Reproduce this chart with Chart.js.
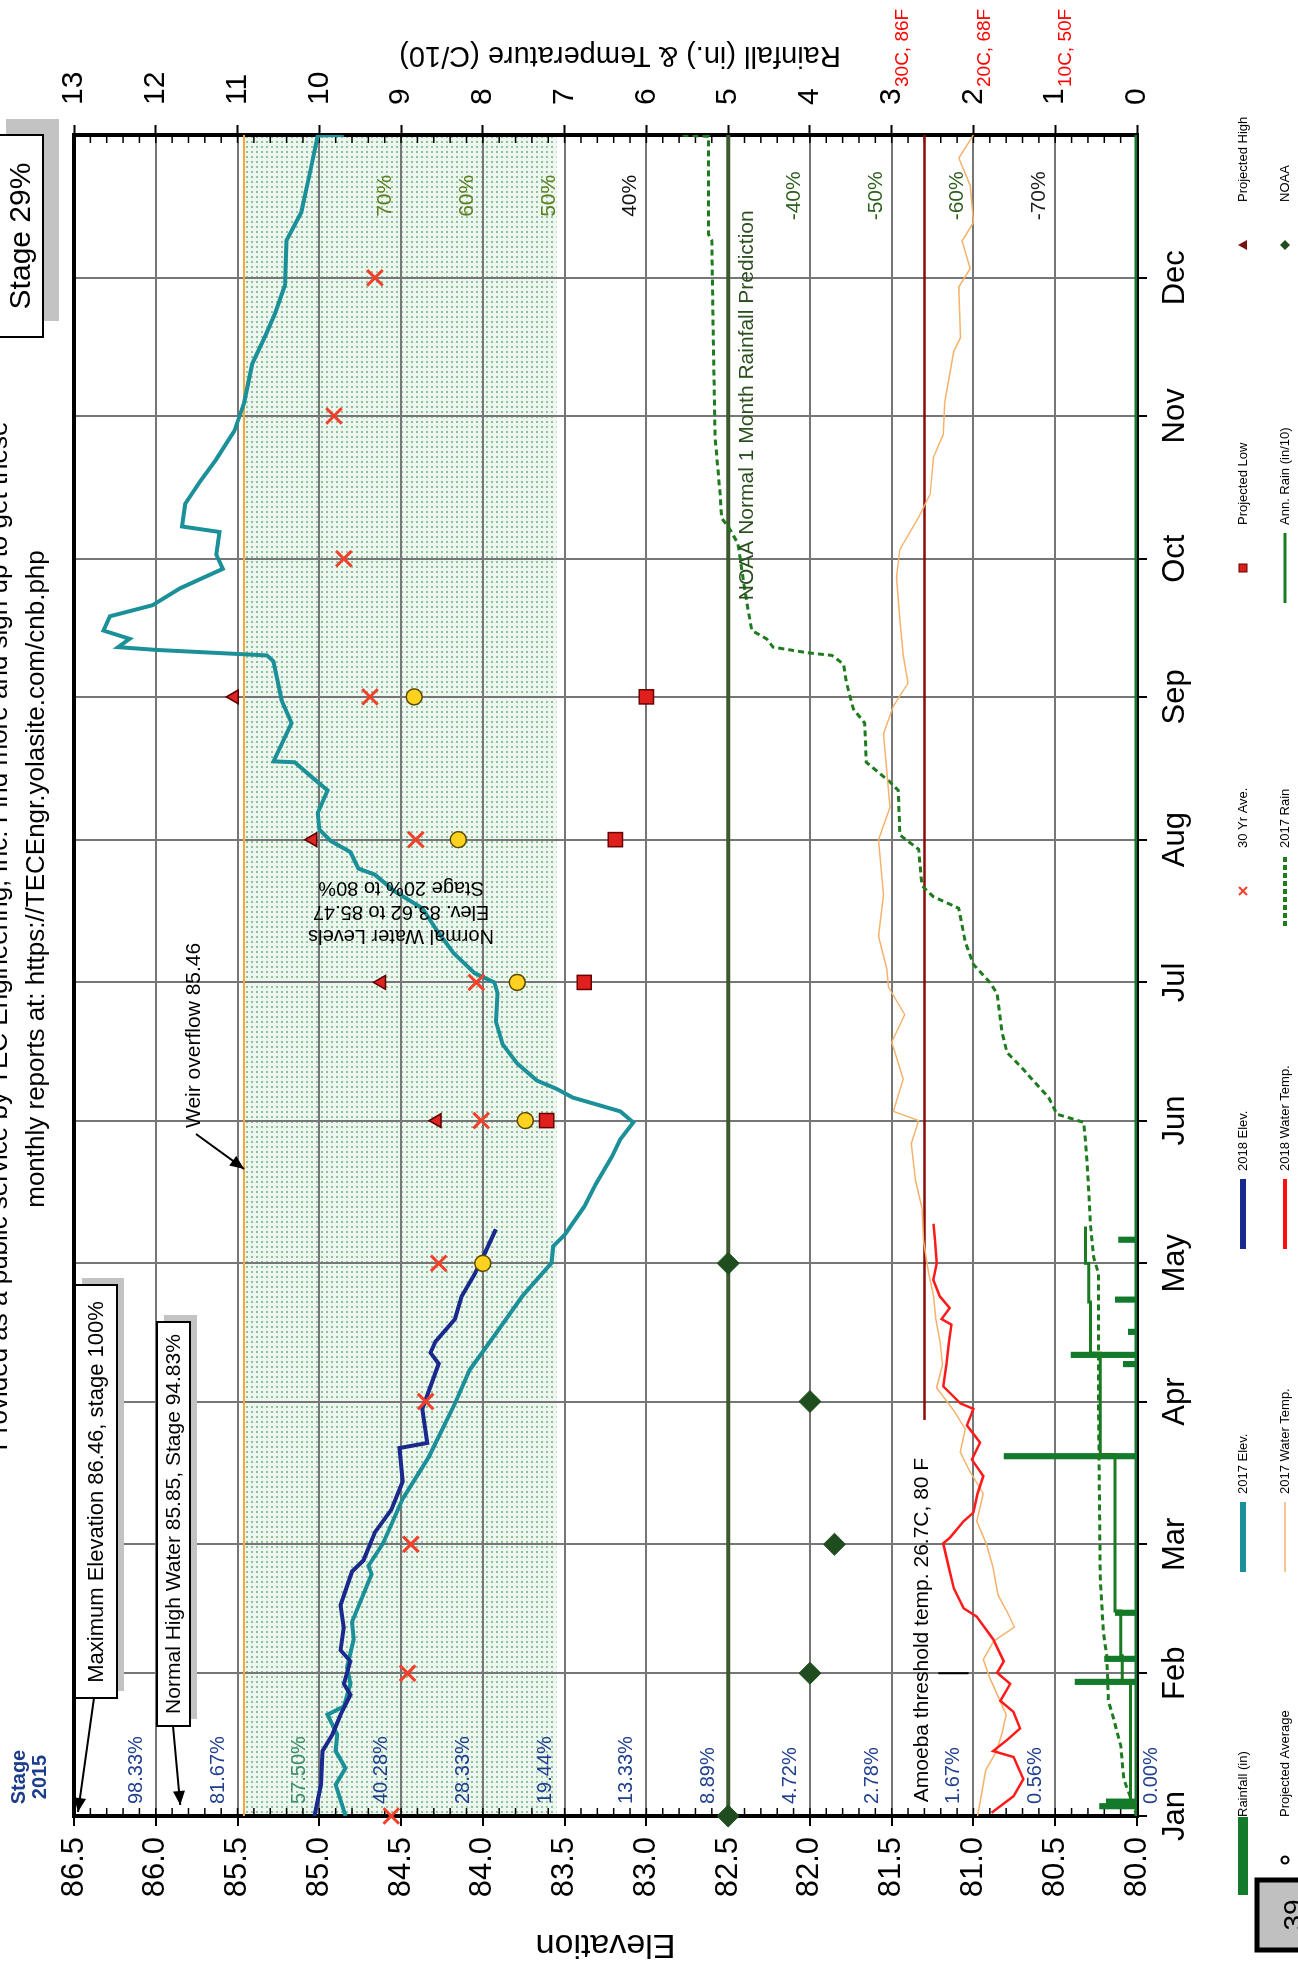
<!DOCTYPE html>
<html><head><meta charset="utf-8">
<script src="https://cdn.jsdelivr.net/npm/chart.js@4.4.0/dist/chart.umd.min.js"></script>
<style>
html,body{margin:0;padding:0;background:#fff;overflow:hidden;width:1298px;height:1969px;}
#wrap{position:absolute;left:0;top:0;width:1969px;height:1298px;transform-origin:0 0;transform:translate(0px,1969px) rotate(-90deg);background:#fff;}
canvas{display:block;}
</style></head><body>
<div id="wrap"><canvas id="c" width="1969" height="1298"></canvas></div>
<script>
// ---------------- DATA ----------------
const monthStarts = [0,31,59,90,120,151,181,212,243,273,304,334];
const monthLabels = ['Jan','Feb','Mar','Apr','May','Jun','Jul','Aug','Sep','Oct','Nov','Dec'];

const elev2017Day = [0,6.8,10.4,14.1,17.7,22,23.8,28.7,32.3,38.4,42.1,52.5,54.3,59.2,68.9,78,89.6,96.9,104.3,112.8,120.1,123.7,126.2,132.3,137.2,143.2,146.9,150.6,153,156,157.9,159.7,163.4,167.6,172.5,178.6,181,183,187.4,192.2,197.1,200.8,204.4,205.7,209.3,211.7,214.2,217.8,222.7,225.1,228.8,229,237.3,242.2,250.7,252,253.2,253.8,255.6,257.4,260.5,262.9,266.6,270.8,273.9,278.8,280,284.9,289.7,294.6,300.7,306.8,315.3,321.4,326.3,332.4,342.1,348.2,358,364.9,365];
const elev2017 = [84.84,84.90,84.84,84.90,84.89,84.95,84.85,84.81,84.83,84.79,84.80,84.68,84.70,84.61,84.49,84.33,84.17,84.08,83.93,83.76,83.58,83.57,83.50,83.38,83.31,83.21,83.16,83.08,83.16,83.45,83.55,83.67,83.79,83.88,83.92,83.91,83.93,84.05,84.18,84.28,84.37,84.54,84.66,84.76,84.81,84.93,85.00,85.01,84.95,85.03,85.15,85.28,85.17,85.23,85.28,85.32,86.00,86.23,86.16,86.32,86.28,86.02,85.85,85.59,85.63,85.61,85.84,85.82,85.73,85.63,85.52,85.46,85.41,85.33,85.27,85.21,85.20,85.11,85.05,85.01,84.85];

const elev2018Day = [0,6.8,14.1,17.7,22,26.3,28.7,33.6,36,40.9,45.8,53.1,55.5,61.6,66.5,72.6,79.9,81,88.4,98.2,100.6,103,107.9,112.8,117.7,121.3,127.4];
const elev2018 = [85.03,84.99,84.98,84.92,84.87,84.81,84.85,84.81,84.87,84.85,84.87,84.80,84.73,84.66,84.56,84.49,84.51,84.34,84.37,84.27,84.32,84.29,84.17,84.13,84.05,84.00,83.92];

const temp2017Day = [0,5,10,14,18,22,26,30,34,38,41,44,48,54,59,64,70,75,79,84,88,93,98,103,108,113,118,125,132,138,146,151,153,160,168,174,180,184,191,200,212,219,235,241,246,252,260,269,275,282,287,295,300,307,318,321,332,336,342,346,354,360,365];
const temp2017 = [1.95,1.9,1.85,1.72,1.65,1.6,1.7,1.8,1.88,1.75,1.5,1.58,1.7,1.76,1.84,1.96,1.88,2.05,2.16,2.1,2.24,2.45,2.38,2.41,2.46,2.49,2.55,2.61,2.63,2.71,2.76,2.67,2.98,2.86,3.0,2.84,3.04,3.06,3.16,3.1,3.16,3.02,3.1,2.98,2.8,2.86,2.9,2.94,2.9,2.67,2.53,2.49,2.37,2.35,2.24,2.16,2.18,2.04,2.14,2.0,2.04,2.18,2.0];

const temp2018Day = [0.7,4.3,8,12.8,14.1,16.5,19,22.6,25,28.7,31.1,33.6,38.4,43.3,45.1,49.4,53.1,59.2,60.4,64,65.9,70,73.8,77.4,81.1,84.8,88.4,89.6,93.3,98.2,103,106.7,107.9,110.3,112.8,116.4,120,125,128.6];
const temp2018 = [1.78,1.51,1.39,1.51,1.76,1.59,1.43,1.51,1.67,1.55,1.71,1.63,1.76,1.96,2.12,2.24,2.29,2.37,2.29,2.12,2.0,1.95,1.88,2.02,1.92,2.08,2.0,2.16,2.37,2.33,2.3,2.27,2.39,2.29,2.41,2.49,2.45,2.47,2.49];

const rain2017Day = [0,8,15.3,21.4,25,34.8,39.7,51.8,88.4,117.7,121.3,128.6,142,150.6,152.4,156,159.7,162.1,165.8,170.1,178.6,181,184.9,189.8,197.1,199.6,202,209.9,213,222.7,224.5,228.8,237.3,240.4,245.9,250.1,252,252.6,253.8,255.6,257.4,262.3,266.6,276.3,280,281.8,287.3,299.5,319,342.1,343.4,364.7,365];
const rain2017 = [0,0.16,0.2,0.29,0.35,0.37,0.41,0.45,0.47,0.47,0.53,0.57,0.61,0.65,0.98,1.08,1.27,1.39,1.59,1.65,1.71,1.8,2.0,2.1,2.18,2.49,2.63,2.67,2.9,2.92,3.02,3.31,3.33,3.47,3.55,3.59,3.73,4.04,4.45,4.53,4.71,4.76,4.8,4.88,5.0,5.08,5.1,5.16,5.18,5.2,5.24,5.24,5.59];

const annRainDay = [0,2.5,29,34.8,44.5,78.5,100.5,111.6,120,128];
const annRain = [0,0.08,0.18,0.2,0.27,0.45,0.57,0.59,0.63,0.63];

const rainDay = [2,3,29,34,44,78,98,100,105,112,125];
const rainAmt = [0.43,0.35,0.73,0.37,0.24,1.6,0.14,0.78,0.08,0.24,0.2];

const noaaDay = [0,31,59,90,120];
const noaa = [5,4,3.7,4,5];
const normalRainDay = [0,365];
const normalRain = [5,5];

const avg30 = [84.56,84.46,84.44,84.35,84.27,84.01,84.04,84.41,84.69,84.85,84.91,84.66];
const projDay = [151,181,212,243];
const projHigh = [84.28,84.62,85.04,85.52];
const projLow = [83.61,83.38,83.19,83.0];
const projAvgDay = [120,151,181,212,243];
const projAvg = [84.0,83.74,83.79,84.15,84.42];

const amoebaDay = [86,365];
const amoebaTemp = [2.6,2.6];
const weirLevel = 85.46;
const bandLow = 83.55;

const stageLabels = ['98.33%','81.67%','57.50%','40.28%','28.33%','19.44%','13.33%','8.89%','4.72%','2.78%','1.67%','0.56%','0.00%'];
const stageLevels = [86.0,85.5,85.0,84.5,84.0,83.5,83.0,82.5,82.0,81.5,81.0,80.5,80.0];
const pctLabels = ['70%','60%','50%','40%','-40%','-50%','-60%','-70%'];
const pctLevels = [84.5,84.0,83.5,83.0,82.0,81.5,81.0,80.5];
const tempTickLabels = ['30C, 86F','20C, 68F','10C, 50F'];
const tempTickValues = [3,2,1];

// ---------------- HELPERS ----------------
const FONT = "'Liberation Sans', Arial, Helvetica, sans-serif";
const pts = (xs, ys) => xs.map((x,i)=>({x:x, y:ys[i]}));
function rainSeries(){
  const out=[{x:0,y:0}];
  rainDay.forEach((d,i)=>{ out.push({x:d,y:rainAmt[i]}); out.push({x:d+0.25,y:0}); });
  out.push({x:365,y:0});
  return out;
}
const canvas = document.getElementById('c');
const ctx0 = canvas.getContext('2d');
function makePattern(){
  const p=document.createElement('canvas'); p.width=5; p.height=5;
  const g=p.getContext('2d');
  g.fillStyle='#eef7ef'; g.fillRect(0,0,5,5);
  g.fillStyle='#8fc29a'; g.fillRect(1,1,2,2);
  return ctx0.createPattern(p,'repeat');
}
function t(ctx,s,x,y,size,color,align,base,weight){
  ctx.font=(weight?weight+' ':'')+size+'px '+FONT;
  ctx.fillStyle=color; ctx.textAlign=align||'left'; ctx.textBaseline=base||'alphabetic';
  ctx.fillText(s,x,y);
}
function rt(ctx,s,x,y,size,color){
  ctx.save(); ctx.translate(x,y); ctx.rotate(-Math.PI/2);
  t(ctx,s,0,0,size,color,'center','middle'); ctx.restore();
}
function arrow(ctx,x1,y1,x2,y2){
  ctx.save(); ctx.strokeStyle='#000'; ctx.fillStyle='#000'; ctx.lineWidth=2;
  ctx.beginPath(); ctx.moveTo(x1,y1); ctx.lineTo(x2,y2); ctx.stroke();
  const a=Math.atan2(y2-y1,x2-x1), L=14, W=6;
  ctx.beginPath(); ctx.moveTo(x2,y2);
  ctx.lineTo(x2-L*Math.cos(a)+W*Math.sin(a), y2-L*Math.sin(a)-W*Math.cos(a));
  ctx.lineTo(x2-L*Math.cos(a)-W*Math.sin(a), y2-L*Math.sin(a)+W*Math.cos(a));
  ctx.closePath(); ctx.fill(); ctx.restore();
}
function shadowBox(ctx,x,y,w,h,off,lw){
  ctx.fillStyle='#c3c3c3'; ctx.fillRect(x+off,y+off,w,h);
  ctx.fillStyle='#fff'; ctx.fillRect(x,y,w,h);
  ctx.strokeStyle='#000'; ctx.lineWidth=lw||2; ctx.strokeRect(x,y,w,h);
}

// ---------------- PLUGINS ----------------
const framePlugin = {
  id:'frame',
  beforeDatasetsDraw(chart){
    const {ctx, chartArea:a, scales} = chart;
    ctx.save();
    ctx.strokeStyle='#000'; ctx.lineWidth=1.5;
    for(let k=0;k<=65;k++){
      const y=scales.yE.getPixelForValue(80+k*0.1);
      ctx.beginPath(); ctx.moveTo(a.left,y); ctx.lineTo(a.left+8,y); ctx.stroke();
      const y2=scales.yR.getPixelForValue(k*0.2);
      ctx.beginPath(); ctx.moveTo(a.right-8,y2); ctx.lineTo(a.right,y2); ctx.stroke();
    }
    ctx.lineWidth=4; ctx.strokeRect(a.left,a.top,a.right-a.left,a.bottom-a.top);
    ctx.restore();
  }
};

const annotPlugin = {
  id:'annot',
  afterDatasetsDraw(chart){
    const {ctx, chartArea:a, scales} = chart;
    const X=scales.x, E=scales.yE, R=scales.yR;
    ctx.save();
    t(ctx,'Provided as a public service by TEC Engineering, Inc. Find more and sign up to get these',1033,7,26,'#000','center');
    t(ctx,'monthly reports at: https://TECEngr.yolasite.com/cnb.php',1090,44,26,'#000','center');
    t(ctx,'Stage',192,19,20,'#1c3c8c','center','middle','bold');
    t(ctx,'2015',192,40,20,'#1c3c8c','center','middle','bold');
    stageLabels.forEach((s,i)=>{
      const y=E.getPixelForValue(stageLevels[i]);
      const col = s==='57.50%' ? '#3f8f6a' : '#203f8f';
      if(stageLevels[i]===80) t(ctx,s,X.getPixelForValue(2.6),y+20,20,col,'left');
      else t(ctx,s,X.getPixelForValue(2.6),y-14,20,col,'left');
    });
    const pctCols=['#5e7f1f','#5e7f1f','#5e7f1f','#111','#2f5f1f','#2f5f1f','#2f5f1f','#222'];
    pctLabels.forEach((s,i)=>{
      t(ctx,s,X.getPixelForValue(351.8),E.getPixelForValue(pctLevels[i])-10,21,pctCols[i],'center');
    });
    shadowBox(ctx,1632,-10,202,53,16,2);
    t(ctx,'Stage 29%',1733,22,30,'#000','center','middle');
    shadowBox(ctx,271,75,413,42,7,2);
    t(ctx,'Maximum Elevation 86.46, stage 100%',477,97,22,'#000','center','middle');
    arrow(ctx,271,94,157,78);
    shadowBox(ctx,243,157,404,33,7,2);
    t(ctx,'Normal High Water 85.85, Stage 94.83%',445,174,21,'#000','center','middle');
    arrow(ctx,243,173,164,E.getPixelForValue(85.85));
    t(ctx,'Weir overflow 85.46',841,200,21,'#000','left');
    arrow(ctx,835,196,X.getPixelForValue(140.5),E.getPixelForValue(weirLevel));
    ctx.save(); ctx.translate(X.getPixelForValue(196.3),E.getPixelForValue(84.5)); ctx.rotate(-Math.PI/2);
    t(ctx,'Normal Water Levels',0,-24,20,'#000','center','middle');
    t(ctx,'Elev. 83.62 to 85.47',0,0,20,'#000','center','middle');
    t(ctx,'Stage 20% to 80%',0,24,20,'#000','center','middle');
    ctx.restore();
    t(ctx,'Amoeba threshold temp. 26.7C, 80 F',X.getPixelForValue(3),R.getPixelForValue(2.63),21,'#000','left','middle');
    ctx.strokeStyle='#000'; ctx.lineWidth=2;
    ctx.beginPath(); ctx.moveTo(X.getPixelForValue(31),R.getPixelForValue(2.43)); ctx.lineTo(X.getPixelForValue(31),R.getPixelForValue(2.06)); ctx.stroke();
    t(ctx,'NOAA Normal 1 Month Rainfall Prediction',X.getPixelForValue(264),R.getPixelForValue(5)+9,21,'#2c4f1f','left','top');
    rt(ctx,'Rainfall (in.) & Temperature (C/10)',1914,620,29,'#000');
    tempTickLabels.forEach((s,i)=>{
      t(ctx,s,1882,R.getPixelForValue(tempTickValues[i])+11,19,'#ff0000','left','middle');
    });
    ctx.fillStyle='#c0c0c0'; ctx.fillRect(19,1257,70,60);
    ctx.strokeStyle='#000'; ctx.lineWidth=5; ctx.strokeRect(19,1257,70,60);
    t(ctx,'39',54,1303,28,'#000','center');
    drawLegend(ctx);
    ctx.restore();
  }
};

const legendCols=[74,397,720,1043,1366,1689];
const legendRows=[1243,1285];
const legendItems=[
  ['Rainfall (in)','bar','#127a2a'],['2017 Elev.','line6','#1b9098'],['2018 Elev.','line6','#1a2a8c'],
  ['30 Yr Ave.','x','#f2402a'],['Projected Low','sq','#d8201c'],['Projected High','tri','#7a1010'],
  ['Projected Average','circ','#000'],['2017 Water Temp.','thin','#f6b26b'],['2018 Water Temp.','line4','#ff1010'],
  ['2017 Rain','dash','#1e7b1e'],['Ann. Rain (in/10)','line3','#1a7a22'],['NOAA','dia','#1f4d1f']
];
function drawLegend(ctx){
  legendItems.forEach((it,i)=>{
    const x0=legendCols[i%6], y=legendRows[Math.floor(i/6)], cx=x0+35;
    const [label,kind,col]=it;
    ctx.save(); ctx.strokeStyle=col; ctx.fillStyle=col;
    const hl=(w,dash)=>{ctx.lineWidth=w; if(dash) ctx.setLineDash(dash); ctx.beginPath(); ctx.moveTo(x0,y); ctx.lineTo(x0+70,y); ctx.stroke(); ctx.setLineDash([]);};
    if(kind==='bar'){ ctx.fillRect(x0,y-5,78,10); }
    else if(kind==='line6') hl(6);
    else if(kind==='line4') hl(4);
    else if(kind==='line3') hl(3);
    else if(kind==='thin') hl(1.5);
    else if(kind==='dash') hl(4,[5,3]);
    else if(kind==='x'){ ctx.lineWidth=2; ctx.beginPath(); ctx.moveTo(cx-4,y-4); ctx.lineTo(cx+4,y+4); ctx.moveTo(cx-4,y+4); ctx.lineTo(cx+4,y-4); ctx.stroke(); }
    else if(kind==='sq'){ ctx.fillRect(cx-4,y-4,8,8); ctx.strokeStyle='#600'; ctx.lineWidth=1; ctx.strokeRect(cx-4,y-4,8,8); }
    else if(kind==='tri'){ ctx.beginPath(); ctx.moveTo(cx,y-5); ctx.lineTo(cx+5,y+4); ctx.lineTo(cx-5,y+4); ctx.closePath(); ctx.fill(); }
    else if(kind==='circ'){ ctx.lineWidth=2; ctx.beginPath(); ctx.arc(cx,y,3.5,0,Math.PI*2); ctx.stroke(); }
    else if(kind==='dia'){ ctx.beginPath(); ctx.moveTo(cx,y-5); ctx.lineTo(cx+5,y); ctx.lineTo(cx,y+5); ctx.lineTo(cx-5,y); ctx.closePath(); ctx.fill(); }
    ctx.restore();
    t(ctx,label,x0+78,y,13,'#000','left','middle');
  });
}

// ---------------- CHART ----------------
const pattern = makePattern();
const lineBase = {pointRadius:0, pointHoverRadius:0, tension:0, fill:false};
const marker = (data, style, r, bg, border, bw, order) => ({type:'line', data, showLine:false, pointStyle:style, pointRadius:r, pointHoverRadius:r, backgroundColor:bg, borderColor:border, pointBorderWidth:bw, borderWidth:bw, yAxisID:'yE', clip:false, order});

new Chart(canvas, {
  type:'line',
  data:{datasets:[
    Object.assign({label:'Weir band', data:pts([0,365],[weirLevel,weirLevel]), yAxisID:'yE', borderColor:'#f5a83a', borderWidth:2, backgroundColor:pattern, order:20}, lineBase, {fill:{value:bandLow}}),
    Object.assign({label:'Rainfall (in)', data:rainSeries(), yAxisID:'yR', borderColor:'#127a2a', borderWidth:5, stepped:'before', order:10}, lineBase),
    Object.assign({label:'Normal', data:pts(normalRainDay,normalRain), yAxisID:'yR', borderColor:'#3d5a2c', borderWidth:4, order:11}, lineBase),
    Object.assign({label:'Amoeba', data:pts(amoebaDay,amoebaTemp), yAxisID:'yR', borderColor:'#8b0a0a', borderWidth:2.5, order:12}, lineBase),
    Object.assign({label:'2017 Rain', data:pts(rain2017Day,rain2017), yAxisID:'yR', borderColor:'#1e7b1e', borderWidth:3, borderDash:[6,4], order:9}, lineBase),
    Object.assign({label:'Ann. Rain (in/10)', data:pts(annRainDay,annRain), yAxisID:'yR', borderColor:'#1a7a22', borderWidth:3, stepped:'before', order:8}, lineBase),
    Object.assign({label:'2017 Water Temp.', data:pts(temp2017Day,temp2017), yAxisID:'yR', borderColor:'#f6b26b', borderWidth:1.5, order:7}, lineBase),
    Object.assign({label:'2018 Water Temp.', data:pts(temp2018Day,temp2018), yAxisID:'yR', borderColor:'#ff1a1a', borderWidth:2.5, order:6}, lineBase),
    Object.assign({label:'2017 Elev.', data:pts(elev2017Day,elev2017), yAxisID:'yE', borderColor:'#1b9098', borderWidth:4, order:5}, lineBase),
    Object.assign({label:'2018 Elev.', data:pts(elev2018Day,elev2018), yAxisID:'yE', borderColor:'#1a2a8c', borderWidth:4, order:4}, lineBase),
    Object.assign(marker(pts(noaaDay,noaa),'rectRot',11,'#1f4d1f','#1f4d1f',1,2),{yAxisID:'yR'}),
    marker(pts(monthStarts,avg30),'crossRot',11,'#f2402a','#f2402a',3,1),
    marker(pts(projDay,projLow),'rect',10,'#e0201c','#6b0000',1.5,1),
    marker(pts(projDay,projHigh),'triangle',8,'#e02424','#5a0000',1.5,1),
    marker(pts(projAvgDay,projAvg),'circle',8,'#ffd21f','#5a4a00',1.5,1)
  ]},
  options:{
    responsive:false, animation:false, devicePixelRatio:1,
    layout:{padding:{top:74,left:0,right:0,bottom:0}},
    plugins:{legend:{display:false}, tooltip:{enabled:false}, filler:{drawTime:'beforeDraw'}},
    scales:{
      x:{type:'linear', min:0, max:365, position:'bottom',
        afterBuildTicks:(s)=>{ s.ticks = monthStarts.map(v=>({value:v})); },
        ticks:{callback:(v,i)=>monthLabels[i], font:{size:31,family:FONT}, color:'#000', padding:10, maxRotation:0, autoSkip:false},
        grid:{color:'#767676', lineWidth:2, tickLength:10, tickColor:'#000', tickWidth:2},
        border:{display:false},
        afterFit:(s)=>{ s.height=161; }
      },
      yE:{type:'linear', position:'left', min:80, max:86.5,
        ticks:{stepSize:0.5, callback:(v)=>Number(v).toFixed(1), font:{size:31,family:FONT}, color:'#000', padding:11},
        grid:{color:'#767676', lineWidth:2, tickLength:10, tickColor:'#000', tickWidth:2},
        border:{display:false},
        title:{display:true, text:'Elevation', font:{size:34,family:FONT}, color:'#000', padding:{top:4,bottom:0}},
        afterFit:(s)=>{ s.width=153; }
      },
      yR:{type:'linear', position:'right', min:0, max:13,
        ticks:{stepSize:1, font:{size:30,family:FONT}, color:'#000', padding:20},
        grid:{drawOnChartArea:false, tickLength:10, tickColor:'#000', tickWidth:2},
        border:{display:false},
        afterFit:(s)=>{ s.width=135; }
      }
    }
  },
  plugins:[framePlugin, annotPlugin]
});
</script>
</body></html>
